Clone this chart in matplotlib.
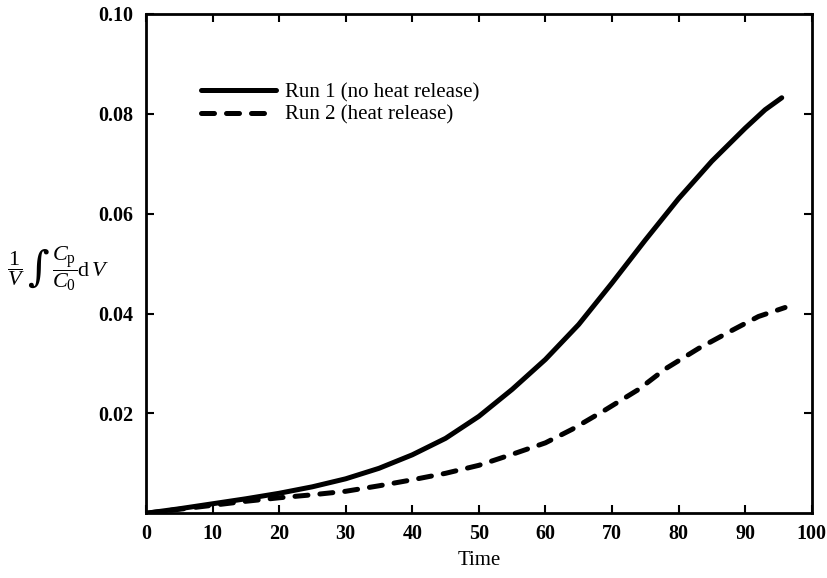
import matplotlib
matplotlib.use("Agg")
from matplotlib import pyplot as plt

plt.rcParams['font.family'] = ['Liberation Serif', 'DejaVu Serif']
plt.rcParams['mathtext.fontset'] = 'custom'
plt.rcParams['mathtext.rm'] = 'Liberation Serif'
plt.rcParams['mathtext.it'] = 'Liberation Serif:italic'

# run 1: no heat release
time_1 = [0, 5, 10, 15, 20, 25, 30, 35, 40, 45, 50, 55, 60, 65, 70, 75, 80, 85, 90, 93, 95.5]
conc_1 = [0.0, 0.0009, 0.0019, 0.0029, 0.0040, 0.0053, 0.0069, 0.0090, 0.0117, 0.0150, 0.0194,
          0.0248, 0.0308, 0.0378, 0.0461, 0.0547, 0.0630, 0.0705, 0.0771, 0.0808, 0.0832]

# run 2: heat release
time_2 = [0, 5, 10, 15, 20, 25, 30, 35, 40, 45, 50, 55, 60, 64, 69, 74, 78, 83, 88, 92, 96]
conc_2 = [0.0, 0.0008, 0.0016, 0.0024, 0.0031, 0.0037, 0.0044, 0.0055, 0.0067, 0.0080, 0.0096,
          0.0118, 0.0141, 0.0168, 0.0207, 0.0248, 0.0289, 0.0330, 0.0366, 0.0394, 0.0412]

fig = plt.figure(figsize=(8.27, 5.78), dpi=100)
ax = fig.add_axes([0.1765, 0.112, 0.805, 0.864])

ax.plot(time_1, conc_1, color='black', lw=3.6, solid_capstyle='round',
        solid_joinstyle='round', label='Run 1 (no heat release)')
ax.plot(time_2, conc_2, color='black', lw=3.6, dashes=(2.6, 2.4),
        dash_capstyle='round', dash_joinstyle='round', label='Run 2 (heat release)')

ax.set_xlim(0, 100)
ax.set_ylim(0, 0.10)
ax.set_xticks(range(0, 101, 10))
ax.set_yticks([0.02, 0.04, 0.06, 0.08, 0.10])
ax.set_yticklabels(['0.02', '0.04', '0.06', '0.08', '0.10'])
ax.tick_params(direction='in', top=True, right=True, length=6, width=1.5,
               labelsize=14.5, pad=8)
ax.tick_params(axis='y', pad=9)
for lbl in ax.get_xticklabels() + ax.get_yticklabels():
    lbl.set_fontweight('bold')
for s in ax.spines.values():
    s.set_linewidth(2)

ax.set_xlabel('Time', fontsize=15, labelpad=5)

# y-axis quantity, built from pieces so the integral sign is full height
fig.text(0.008, 0.535, r'$\dfrac{1}{V}$', fontsize=16, ha='left', va='center')
fig.text(0.033, 0.535, '\u222b', fontsize=30, ha='left', va='center',
         family=['DejaVu Serif'])
fig.text(0.063, 0.535, r'$\dfrac{C_\mathrm{p}}{C_0}\mathrm{d}\,V$', fontsize=16,
         ha='left', va='center')

ax.legend(loc='upper left', bbox_to_anchor=(0.055, 0.90), frameon=False,
          fontsize=15, handlelength=3.6, handletextpad=0.4, labelspacing=0.15)

fig.savefig('out.png', dpi=100)
